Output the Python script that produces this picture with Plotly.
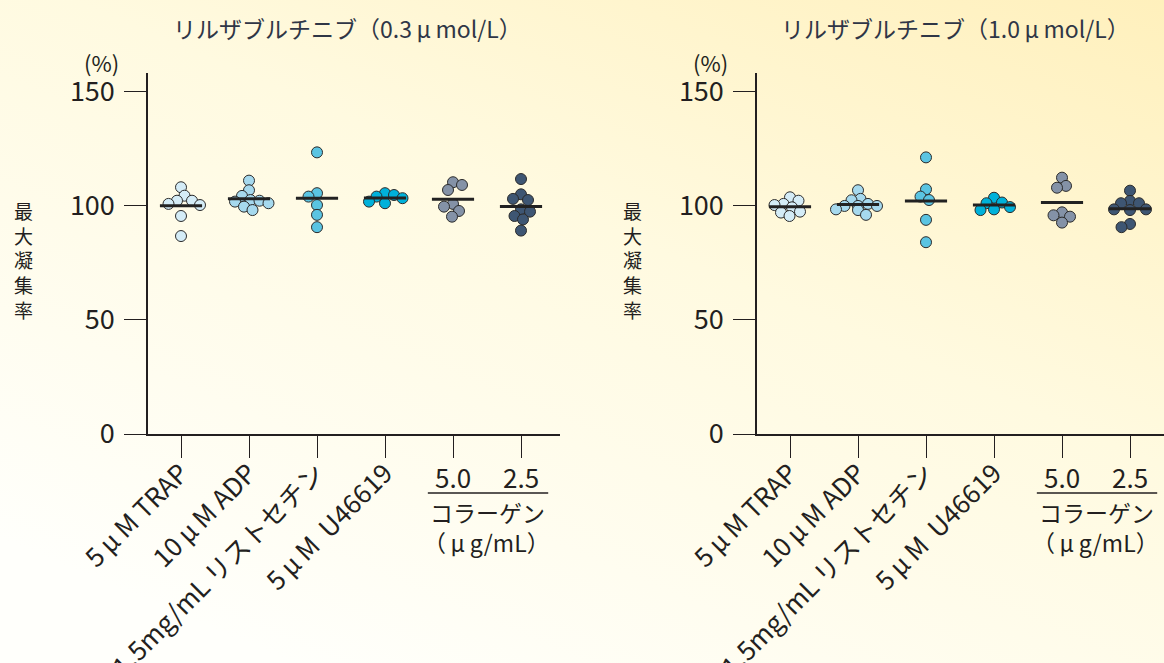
import base64
import numpy as np
import plotly.graph_objects as go

MU = "\u2009μ\u2009"  # mimic the full-width mu of the Japanese typeface

# ---------------- data ----------------
categories = ["5" + MU + "M TRAP", "10" + MU + "M ADP", "1.5mg/mL リストセチン", "5" + MU + "M \u00a0U46619", "5.0", "2.5"]
panel_titles = ["リルザブルチニブ（0.3" + MU + "mol/L）", "リルザブルチニブ（1.0" + MU + "mol/L）"]
y_tick_vals = [0, 50, 100, 150]
collagen_label = "コラーゲン"
collagen_unit = "（" + MU + "g/mL）"
y_title = "最大凝集率"
y_unit = "(%)"

# 0.3 μmol/L panel
d03_trap = [108.2, 104.5, 102.3, 102.3, 100.9, 100.4, 95.6, 86.8]
d03_adp = [111.1, 106.9, 104.4, 102.6, 102.3, 101.9, 101.2, 99.7, 98.2]
d03_risto = [123.5, 105.6, 104.1, 100.4, 96.1, 90.7]
d03_u466 = [105.6, 104.8, 104.1, 103.4, 101.9, 101.2]
d03_col50 = [110.4, 109.2, 107.0, 100.9, 99.7, 97.8, 95.3]
d03_col25 = [111.8, 105.1, 103.1, 102.6, 98.5, 97.5, 95.6, 94.1, 89.2]

# 1.0 μmol/L panel
d10_trap = [103.8, 102.3, 100.9, 100.4, 99.4, 97.5, 97.1, 95.6]
d10_adp = [106.9, 103.1, 102.5, 100.9, 100.0, 100.0, 100.0, 98.5, 98.2, 96.1]
d10_risto = [121.3, 107.3, 104.1, 102.6, 93.9, 84.1]
d10_u466 = [103.6, 101.5, 101.2, 99.5, 98.5, 98.2]
d10_col50 = [112.4, 108.8, 108.0, 97.2, 95.9, 95.3, 92.7]
d10_col25 = [106.7, 102.2, 101.2, 101.2, 98.5, 98.5, 98.2, 92.1, 90.7]

panel_data = [
    [d03_trap, d03_adp, d03_risto, d03_u466, d03_col50, d03_col25],
    [d10_trap, d10_adp, d10_risto, d10_u466, d10_col50, d10_col25],
]

# ---------------- styles ----------------
group_colors = ["#d4ecf7", "#a6d9ee", "#5ac4e2", "#00b1da", "#8492a7", "#3e5673"]
ink = "#231f20"
title_color = "#2f3646"
font_family = "Noto Sans CJK JP, Noto Sans, sans-serif"

W, H = 1164, 663
y_range = [0, 158.3]
px_per_unit_y = 361 / 158.3
px_per_cat = 68.0


def swarm_offsets(vals, diam=9.0, max_off=22.0):
    vals = np.asarray(vals, dtype=float)
    order = np.argsort(-vals, kind="stable")
    placed = []
    offs = np.zeros(len(vals))
    cands = sorted(np.arange(-max_off, max_off + 0.25, 0.5), key=lambda v: (abs(v), v))
    for k, i in enumerate(order):
        y = vals[i] * px_per_unit_y
        chosen = None
        ordered = cands if k % 2 == 0 else sorted(cands, key=lambda v: (abs(v), -v))
        for dx in ordered:
            if all((dx - px) ** 2 + (y - py) ** 2 >= diam * diam for px, py in placed):
                chosen = dx
                break
        if chosen is None:
            chosen = 0.0
        placed.append((chosen, y))
        offs[i] = chosen / px_per_cat
    return offs


fig = go.Figure()

axes = [("x", "y"), ("x2", "y2")]
for p, groups in enumerate(panel_data):
    xr, yr = axes[p]
    for g, vals in enumerate(groups):
        offs = swarm_offsets(vals)
        fig.add_trace(go.Scatter(
            x=g + offs, y=vals, mode="markers", xaxis=xr, yaxis=yr,
            marker=dict(size=11, color=group_colors[g], line=dict(color="#2b2b2b", width=1)),
            showlegend=False, hoverinfo="y"))
    for g, vals in enumerate(groups):
        m = float(np.mean(vals))
        fig.add_trace(go.Scatter(
            x=[g - 0.31, g + 0.31], y=[m, m], mode="lines", xaxis=xr, yaxis=yr,
            line=dict(color="#222222", width=3), showlegend=False, hoverinfo="skip"))

# ---------------- axes ----------------
tick_text = categories[:4] + ["", ""]
common_x = dict(
    tickmode="array", tickvals=list(range(6)), ticktext=tick_text, tickangle=-45,
    ticks="outside", ticklen=22, tickwidth=1.3, tickcolor=ink,
    showline=True, linecolor=ink, linewidth=1.5, showgrid=False, zeroline=False,
    tickfont=dict(family=font_family, size=26, color=ink), ticklabelstandoff=-10,
    fixedrange=True,
)
common_y = dict(
    range=y_range, tickmode="array", tickvals=y_tick_vals,
    ticks="outside", ticklen=22, tickwidth=1.3, tickcolor=ink,
    showline=True, linecolor=ink, linewidth=1.5, showgrid=False, zeroline=False,
    tickfont=dict(family=font_family, size=27, color=ink), ticklabelstandoff=4,
)

y_dom = [(H - 434) / H, (H - 73) / H]
left_axis_px, left_cat0_px, left_end_px = 148, 181, 560
right_axis_px, right_cat0_px, right_end_px = 757, 790, 1164

fig.update_layout(
    width=W, height=H, margin=dict(l=0, r=0, t=0, b=0, autoexpand=False),
    paper_bgcolor="#fffcf0", plot_bgcolor="rgba(0,0,0,0)",
    font=dict(family=font_family, color=ink),
    xaxis=dict(common_x, domain=[left_axis_px / W, left_end_px / W],
               range=[(left_axis_px - left_cat0_px) / px_per_cat, (left_end_px - left_cat0_px) / px_per_cat]),
    xaxis2=dict(common_x, domain=[right_axis_px / W, right_end_px / W], anchor="y2",
                range=[(right_axis_px - right_cat0_px) / px_per_cat, (right_end_px - right_cat0_px) / px_per_cat]),
    yaxis=dict(common_y, domain=y_dom, anchor="x"),
    yaxis2=dict(common_y, domain=y_dom, anchor="x2"),
)

# ---------------- background gradient ----------------
svg = (
    '<svg xmlns="http://www.w3.org/2000/svg" width="1164" height="663" viewBox="0 0 1164 663" '
    'preserveAspectRatio="none"><defs><linearGradient id="g" x1="1" y1="0" x2="0.25" y2="1">'
    '<stop offset="0" stop-color="#fff0bc"/><stop offset="0.45" stop-color="#fffae0"/>'
    '<stop offset="1" stop-color="#fffffb"/></linearGradient></defs>'
    '<rect width="1164" height="663" fill="url(#g)"/></svg>'
)
src = "data:image/svg+xml;base64," + base64.b64encode(svg.encode()).decode()
fig.add_layout_image(dict(source=src, xref="paper", yref="paper", x=0, y=1, sizex=1, sizey=1,
                          xanchor="left", yanchor="top", sizing="stretch", layer="below"))

# ---------------- annotations ----------------
def py(pix):
    return (H - pix) / H


def note(text, xref, x, y, size, color=ink):
    fig.add_annotation(text=text, xref=xref, yref="paper", x=x, y=y, showarrow=False,
                       xanchor="center", yanchor="middle",
                       font=dict(size=size, color=color, family=font_family))


panels = [
    dict(xref="x", title_x=347, axis_px=left_axis_px),
    dict(xref="x2", title_x=955, axis_px=right_axis_px),
]
for p, info in enumerate(panels):
    note(panel_titles[p], "paper", info["title_x"] / W, py(28), 23, title_color)
    note(y_unit, "paper", (info["axis_px"] - 47) / W, py(62), 22)
    note("<br>".join(list(y_title)), "paper", (info["axis_px"] - 125) / W, py(260), 19)
    xr = info["xref"]
    for g in (4, 5):
        note(categories[g], xr, g, py(476), 26)
    fig.add_shape(type="line", xref=xr, yref="paper", x0=3.63, x1=5.40, y0=py(493), y1=py(493),
                  line=dict(color=ink, width=1.3))
    note(collagen_label, xr, 4.51, py(512), 23)
    note(collagen_unit, xr, 4.49, py(542), 23)

fig.write_html("out.html", config={"displayModeBar": False},
               post_script="document.body.style.margin='0';document.body.style.overflow='hidden';")
